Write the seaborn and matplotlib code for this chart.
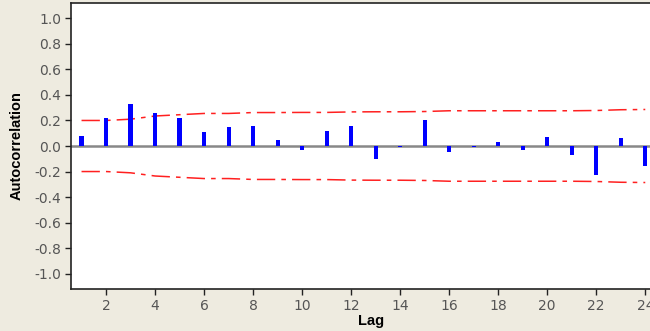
import matplotlib
matplotlib.use("Agg")
import matplotlib.pyplot as plt
import pandas as pd
import seaborn as sns

lags = list(range(1, 25))
acf = [0.08, 0.22, 0.33, 0.26, 0.22, 0.11, 0.145, 0.155, 0.047, -0.03, 0.12, 0.155,
       -0.10, -0.01, 0.20, -0.045, -0.01, 0.03, -0.03, 0.07, -0.073, -0.23, 0.062, -0.156]
upper = [0.20, 0.20, 0.21, 0.235, 0.245, 0.255, 0.255, 0.262, 0.262, 0.263, 0.263, 0.267,
         0.268, 0.268, 0.27, 0.276, 0.276, 0.276, 0.276, 0.276, 0.276, 0.278, 0.284, 0.286]
lower = [-u for u in upper]

df = pd.DataFrame({"lag": lags, "acf": acf, "upper": upper, "lower": lower})

sns.set_theme(style="white")
plt.rcParams["font.family"] = ["DejaVu Sans"]

fig = plt.figure(figsize=(6.5, 3.31), dpi=100, facecolor="#EEEBE0")
ax = fig.add_axes([71 / 650, 42 / 331, 600 / 650, 286 / 331])
ax.set_facecolor("white")

ax.axhline(0, color="#888888", linewidth=1.8, zorder=1)
sns.barplot(data=df, x="lag", y="acf", native_scale=True, width=0.17,
            color="#0000FF", saturation=1, linewidth=0, ax=ax, zorder=3)
for col in ["upper", "lower"]:
    sns.lineplot(data=df, x="lag", y=col, ax=ax, color="#FF2020",
                 linewidth=1.1, dashes=False, linestyle=(0, (12, 4, 3, 4)))

ax.set_xlim(0.57, 25.05)
ax.set_ylim(-1.12, 1.12)
ax.set_xticks(range(2, 25, 2))
ax.set_yticks([-1.0, -0.8, -0.6, -0.4, -0.2, 0.0, 0.2, 0.4, 0.6, 0.8, 1.0])
ax.set_yticklabels(["-1.0", "-0.8", "-0.6", "-0.4", "-0.2", "0.0", "0.2", "0.4",
                    "0.6", "0.8", "1.0"])
ax.tick_params(axis="both", direction="out", length=4, width=1, color="#222222",
               labelcolor="#555555", labelsize=10, bottom=True, left=True, pad=3)

for s in ["left", "bottom", "top"]:
    ax.spines[s].set_color("#222222")
    ax.spines[s].set_linewidth(1.2)
ax.spines["right"].set_visible(False)

ax.set_xlabel("Lag", fontsize=10.5, fontweight="bold", color="black",
              family="Liberation Sans", labelpad=1)
ax.set_ylabel("Autocorrelation", fontsize=10.5, fontweight="bold", color="black",
              family="Liberation Sans", labelpad=8)

fig.savefig("out.png", dpi=100, facecolor=fig.get_facecolor())
